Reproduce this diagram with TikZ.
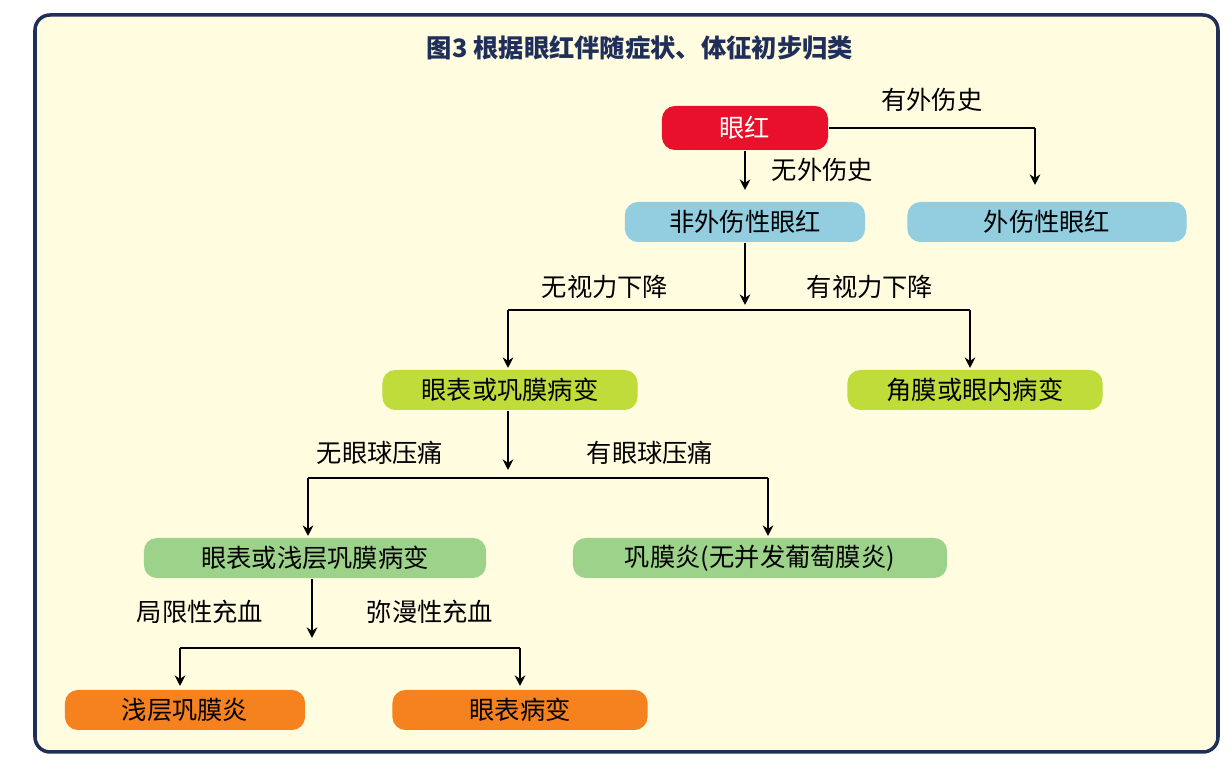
\documentclass[tikz,border=0pt]{standalone}
\usepackage{fontspec}
\setmainfont{Noto Sans CJK SC}
\usetikzlibrary{arrows.meta, positioning}
\definecolor{frameBg}{HTML}{FFFCE0}
\definecolor{frameLine}{HTML}{1F2F5A}
\definecolor{redPill}{HTML}{E8102A}
\definecolor{bluePill}{HTML}{92CEDF}
\definecolor{limePill}{HTML}{C0DC3A}
\definecolor{greenPill}{HTML}{9CD28A}
\definecolor{orangePill}{HTML}{F5821E}

\begin{document}
\begin{tikzpicture}[
      x=0.01cm, y=-0.01cm,
      font=\fontsize{7.2}{8}\selectfont,
      >={Stealth[length=3pt,width=3pt]},
      line/.style  = {line width=0.6pt,->},
      link/.style  = {line width=0.6pt},
      pill/.style  = {rounded corners=0.13cm, minimum height=0.4cm, inner sep=1pt},
      redBox/.style    = {pill, fill=redPill, text=white, minimum height=0.44cm},
      blueBox/.style   = {pill, fill=bluePill},
      limeBox/.style   = {pill, fill=limePill},
      greenBox/.style  = {pill, fill=greenPill},
      orangeBox/.style = {pill, fill=orangePill}
    ]
    \useasboundingbox (0,0) rectangle (1232,783);

    % ---------------- frame & title ----------------
    \draw[frameLine, line width=1pt, fill=frameBg, rounded corners=0.15cm]
    (35,15) rectangle (1218,752);
    \node[font=\fontsize{7.2}{8}\selectfont\bfseries, text=frameLine] (title) at (640,48)
    {图3\ 根据眼红伴随症状、体征初步归类};

    % ---------------- nodes ----------------
    \node[redBox,    minimum width=1.66cm] (red)        at (745,128) {眼红};
    \node[blueBox,   minimum width=2.40cm] (nonTrauma)  at (745,222) {非外伤性眼红};
    \node[blueBox,   minimum width=2.79cm] (trauma)     at (1047,222) {外伤性眼红};
    \node[limeBox,   minimum width=2.55cm] (surfSclera) at (510,390) {眼表或巩膜病变};
    \node[limeBox,   minimum width=2.55cm] (cornea)     at (975,390) {角膜或眼内病变};
    \node[greenBox,  minimum width=3.42cm] (surfEpi)    at (315,558) {眼表或浅层巩膜病变};
    \node[greenBox,  minimum width=3.74cm] (scleritis)  at (760,558) {巩膜炎(无并发葡萄膜炎)};
    \node[orangeBox, minimum width=2.40cm] (episcl)     at (185,710) {浅层巩膜炎};
    \node[orangeBox, minimum width=2.55cm] (surface)    at (520,710) {眼表病变};

    % ---------------- split points ----------------
    \coordinate (split1) at (745,310);
    \coordinate (split2) at (508,478);
    \coordinate (split3) at (312,648);
    \coordinate (turn0)  at (1035,128);

    % ---------------- arrows ----------------
    \draw[link] (red.east) -- node[above=1pt]{有外伤史} (turn0);
    \draw[line] (turn0) -- (1035,185);
    \draw[line] (red.south) -- node[right=4pt]{无外伤史} (745,190);

    \draw[line] (nonTrauma.south) -- (745,305);
    \draw[link] (508,310) -- (970,310);
    \draw[line] (508,310) -- (508,368);
    \draw[line] (970,310) -- (970,368);
    \node (noVision)  at (605,287) {无视力下降};
    \node (hasVision) at (870,287) {有视力下降};

    \draw[line] (surfSclera.south -| split2) -- (508,470);
    \draw[link] (308,478) -- (768,478);
    \draw[line] (308,478) -- (308,536);
    \draw[line] (768,478) -- (768,536);
    \node (noPain)  at (380,453) {无眼球压痛};
    \node (hasPain) at (650,453) {有眼球压痛};

    \draw[line] (surfEpi.south -| split3) -- (312,638);
    \draw[link] (180,648) -- (520,648);
    \draw[line] (180,648) -- (180,686);
    \draw[line] (520,648) -- (520,686);
    \node (local)   at (200,612) {局限性充血};
    \node (diffuse) at (430,612) {弥漫性充血};

  \end{tikzpicture}
\end{document}
